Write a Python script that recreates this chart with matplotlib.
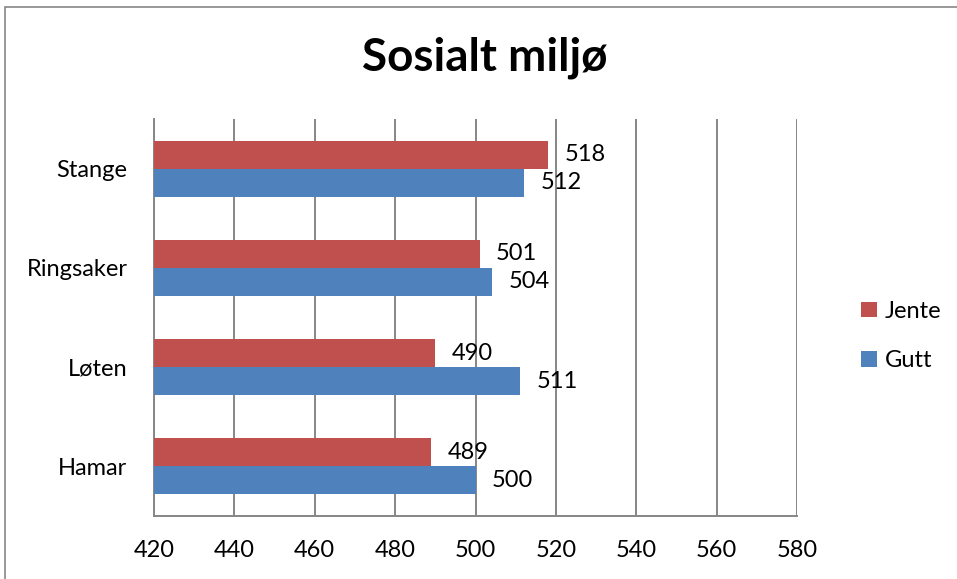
import matplotlib.pyplot as plt
import numpy as np
from matplotlib.patches import Rectangle

# data -----------------------------------------------------------------
steder = ['Hamar', 'Løten', 'Ringsaker', 'Stange']
jente = [489, 490, 501, 518]
gutt = [500, 511, 504, 512]
xticks = [420, 440, 460, 480, 500, 520, 540, 560, 580]

red = '#C0504D'
blue = '#4F81BD'
grid_col = '#868686'

plt.rcParams['font.family'] = ['Lato', 'DejaVu Sans']

fig = plt.figure(figsize=(9.57, 5.79), dpi=100)
W, H = 957, 579
ax = fig.add_axes([154 / W, 1 - 516 / H, (797 - 154) / W, (516 - 119) / H])

y = np.arange(len(steder))
h = 0.283
bj = ax.barh(y + h / 2, np.array(jente) - 420, height=h, left=420, color=red, label='Jente', zorder=3)
bg = ax.barh(y - h / 2, np.array(gutt) - 420, height=h, left=420, color=blue, label='Gutt', zorder=3)

for bars, vals in [(bj, jente), (bg, gutt)]:
    for b, v in zip(bars, vals):
        ax.annotate(str(v), (v, b.get_y() + b.get_height() / 2), xytext=(12, 0),
                    textcoords='offset points', va='center', ha='left', fontsize=17, zorder=4)

ax.set_xlim(420, 580)
ax.set_ylim(-0.5, len(steder) - 0.5)
ax.set_xticks(xticks)
ax.set_yticks(y)
ax.set_yticklabels(steder)
ax.tick_params(axis='both', length=0, labelsize=17)
ax.tick_params(axis='x', pad=17)
ax.tick_params(axis='y', pad=19)
ax.grid(axis='x', color=grid_col, linewidth=1.4, zorder=0)
for s in ['top', 'right']:
    ax.spines[s].set_visible(False)
for s in ['left', 'bottom']:
    ax.spines[s].set_color(grid_col)
    ax.spines[s].set_linewidth(1.4)

fig.text(485 / W, 1 - 58 / H, 'Sosialt miljø', ha='center', va='center', fontsize=33, fontweight='bold')

handles, labels = ax.get_legend_handles_labels()
fig.legend(handles, labels, loc='center left', bbox_to_anchor=(840 / W, 1 - 336 / H), frameon=False,
           fontsize=17, handlelength=0.65, handleheight=0.65, handletextpad=0.35, labelspacing=1.2)

# outer border (left and top only visible)
fig.patches.append(Rectangle((5 / W, -0.1), 1.2, 1 - 7 / H + 0.1, transform=fig.transFigure,
                             fill=False, edgecolor=grid_col, linewidth=1.2))

fig.savefig('out.png', dpi=100)
